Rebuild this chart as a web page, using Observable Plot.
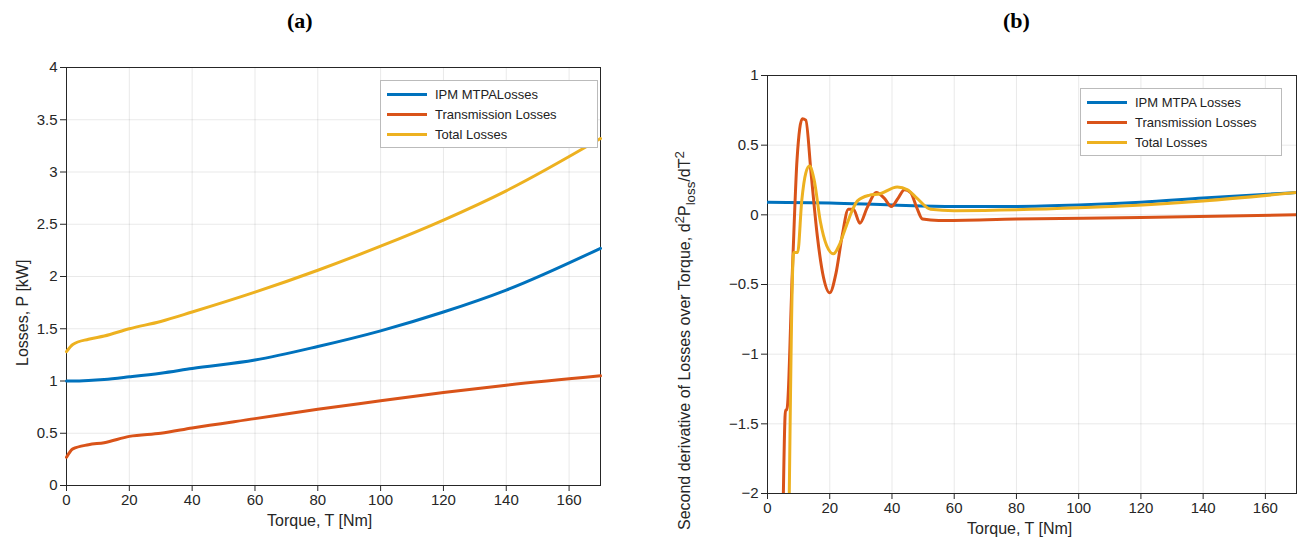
<!DOCTYPE html>
<html><head><meta charset="utf-8">
<script src="https://cdn.jsdelivr.net/npm/d3@7"></script>
<script src="https://cdn.jsdelivr.net/npm/@observablehq/plot@0.6"></script>
<style>
body{margin:0;background:#fff;font-family:"Liberation Sans",Arial,sans-serif;}
#wrap{position:relative;width:1309px;height:550px;}
.p{position:absolute;top:0;}
.t{position:absolute;top:8px;font-family:"Liberation Serif","Times New Roman",serif;font-size:22px;}
.yl{position:absolute;font-size:16px;color:#262626;transform:rotate(-90deg);transform-origin:left top;white-space:nowrap;}
.xl{position:absolute;font-size:16px;color:#262626;}
.lg{position:absolute;background:#fff;border:1px solid #bbb;font-size:13px;color:#222;padding:3px 6px;}
.lg div{display:flex;align-items:center;height:20px;}
.lg span.s{display:inline-block;width:40px;height:3px;margin-right:8px;}
</style></head><body><div id="wrap">
<div class="t" style="left:287px"><b>(a)</b></div>
<div class="t" style="left:1003px"><b>(b)</b></div>
<div id="pa" class="p" style="left:0"></div>
<div id="pb" class="p" style="left:650px"></div>
<div class="yl" style="left:14px;top:366px">Losses, P [kW]</div>
<div class="yl" style="left:672px;top:530px">Second derivative of Losses over Torque, d<sup>2</sup>P<sub>loss</sub>/dT<sup>2</sup></div>
<div class="xl" style="left:267px;top:512px">Torque, T [Nm]</div>
<div class="xl" style="left:967px;top:520px">Torque, T [Nm]</div>
<div class="lg" style="left:380px;top:80px;width:204px">
<div><span class="s" style="background:#0072BD"></span>IPM MTPALosses</div>
<div><span class="s" style="background:#D95319"></span>Transmission Losses</div>
<div><span class="s" style="background:#EDB120"></span>Total Losses</div></div>
<div class="lg" style="left:1080px;top:88px;width:188px">
<div><span class="s" style="background:#0072BD"></span>IPM MTPA Losses</div>
<div><span class="s" style="background:#D95319"></span>Transmission Losses</div>
<div><span class="s" style="background:#EDB120"></span>Total Losses</div></div>
</div>
<script>
const aT=[0,2,7,12,20,30,40,60,80,100,120,140,170];
const aIPM=[1.0,1.0,1.005,1.015,1.04,1.075,1.12,1.2,1.33,1.48,1.66,1.87,2.27];
const aTrans=[0.27,0.35,0.39,0.41,0.47,0.5,0.55,0.64,0.73,0.81,0.89,0.96,1.05];
const aTotal=[1.28,1.35,1.4,1.43,1.5,1.57,1.66,1.85,2.06,2.29,2.54,2.82,3.32];
const bIpmT=[0,20,40,60,80,100,120,140,170];
const bIpm=[0.09,0.085,0.07,0.06,0.06,0.07,0.09,0.12,0.16];
const bTransT=[5.1,5.8,6.2,8,9.5,11.2,12.3,14,16,18,20,22,24,26,27.6,29.7,32,35,37.5,39.8,42,44,46,48,49.8,55,80,120,170];
const bTrans=[-2,-1.4,-1.4,-0.4,0.4,0.69,0.68,0.3,-0.15,-0.45,-0.56,-0.42,-0.15,0.04,0.04,-0.06,0.05,0.16,0.12,0.06,0.12,0.18,0.16,0.05,-0.03,-0.04,-0.03,-0.02,0.0];
const bTotT=[7,8.4,9.7,11,12.3,13.5,15,17,19,21.2,23,25,27,28.9,32.6,36,41.7,45,48,52.4,60,100,140,170];
const bTot=[-2,-0.27,-0.27,0.1,0.3,0.35,0.25,-0.05,-0.22,-0.28,-0.22,-0.1,0.02,0.1,0.14,0.15,0.2,0.18,0.12,0.04,0.03,0.05,0.1,0.16];
const C=["#0072BD","#D95319","#EDB120"];
const z=(xs,ys)=>xs.map((x,i)=>({x,y:ys[i]}));
const common={style:{fontFamily:"Liberation Sans, Arial, sans-serif",fontSize:"15px",color:"#262626"}};
const pa=Plot.plot({...common,width:620,height:550,marginTop:67,marginBottom:65,marginLeft:66,marginRight:20,
 x:{domain:[0,170],ticks:d3.range(0,180,20),label:null,grid:true},
 y:{domain:[0,4],ticks:d3.range(0,4.01,0.5),label:null,grid:true,tickFormat:d=>String(d)},
 marks:[Plot.frame({stroke:"#262626"}),
  Plot.line(z(aT,aIPM),{x:"x",y:"y",stroke:C[0],strokeWidth:3,curve:"monotone-x"}),
  Plot.line(z(aT,aTrans),{x:"x",y:"y",stroke:C[1],strokeWidth:3,curve:"monotone-x"}),
  Plot.line(z(aT,aTotal),{x:"x",y:"y",stroke:C[2],strokeWidth:3,curve:"monotone-x"})]});
document.getElementById("pa").append(pa);
const pb=Plot.plot({...common,width:659,height:550,marginTop:75,marginBottom:57,marginLeft:117,marginRight:13,
 x:{domain:[0,170],ticks:d3.range(0,180,20),label:null,grid:true},
 y:{domain:[-2,1],ticks:d3.range(-2,1.01,0.5),label:null,grid:true,tickFormat:d=>String(d).replace("-","−")},
 marks:[Plot.frame({stroke:"#262626"}),
  Plot.line(z(bIpmT,bIpm),{x:"x",y:"y",stroke:C[0],strokeWidth:3,curve:"monotone-x",clip:true}),
  Plot.line(z(bTransT,bTrans),{x:"x",y:"y",stroke:C[1],strokeWidth:3,curve:"monotone-x",clip:true}),
  Plot.line(z(bTotT,bTot),{x:"x",y:"y",stroke:C[2],strokeWidth:3,curve:"monotone-x",clip:true})]});
document.getElementById("pb").append(pb);
</script></body></html>
